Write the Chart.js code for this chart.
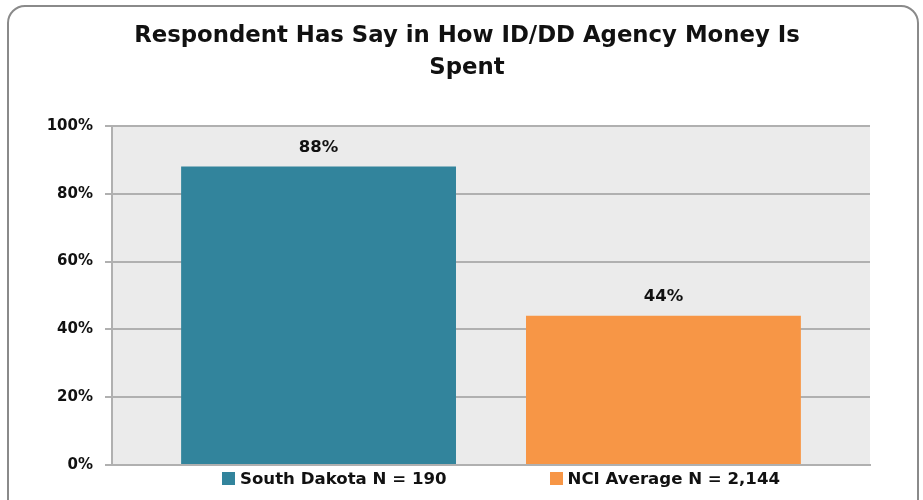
<!DOCTYPE html>
<html>
<head>
<meta charset="utf-8">
<script src="https://cdn.jsdelivr.net/npm/chart.js@4/dist/chart.umd.min.js"></script>
<style>
  html, body { margin: 0; padding: 0; background: #fff; }
  #wrap { position: relative; width: 923px; height: 500px; overflow: hidden; }
  #frame {
    position: absolute; left: 7px; top: 5px; width: 912px; height: 530px;
    border: 2px solid #8a8a8a; border-radius: 18px; box-sizing: border-box;
  }
  #chart { position: absolute; left: 0; top: 0; }
  #legend {
    position: absolute; top: 469px; left: 222px;
    display: flex; gap: 103px;
    font: bold 16.6px "DejaVu Sans", Verdana, sans-serif; color: #111;
  }
  #legend .item { display: flex; align-items: center; white-space: nowrap; }
  #legend .box { width: 13px; height: 13px; margin-right: 5px; }
</style>
</head>
<body>
<div id="wrap">
  <div id="frame"></div>
  <canvas id="chart" width="923" height="500"></canvas>
  <div id="legend"></div>
</div>
<script>
// Series shown as bars
const seriesNames = ['South Dakota N = 190', 'NCI Average N = 2,144'];
const seriesValues = [88, 44];
const seriesColors = ['#32849c', '#f79646'];
const yTicks = [0, 20, 40, 60, 80, 100];

const datasets = seriesNames.map((name, i) => ({
    label: name,
    data: [seriesValues[i]],
    backgroundColor: seriesColors[i],
    barPercentage: 0.797,
    categoryPercentage: 0.91
}));

// Gray plot background behind the bars
const plotBackground = {
    id: 'plotBackground',
    beforeDraw(chart) {
        const { ctx, chartArea } = chart;
        ctx.save();
        ctx.fillStyle = '#ebebeb';
        ctx.fillRect(chartArea.left, chartArea.top, chartArea.right - chartArea.left, chartArea.bottom - chartArea.top);
        ctx.restore();
    }
};

// Percent labels above each bar
const valueLabels = {
    id: 'valueLabels',
    afterDatasetsDraw(chart) {
        const ctx = chart.ctx;
        ctx.save();
        ctx.font = 'bold 16.5px "DejaVu Sans", Verdana, sans-serif';
        ctx.fillStyle = '#111';
        ctx.textAlign = 'center';
        ctx.textBaseline = 'middle';
        chart.data.datasets.forEach((ds, i) => {
            chart.getDatasetMeta(i).data.forEach((bar, j) => {
                ctx.fillText(ds.data[j] + '%', bar.x, bar.y - 19);
            });
        });
        ctx.restore();
    }
};

const chart = new Chart(document.getElementById('chart'), {
    type: 'bar',
    data: { labels: [''], datasets: datasets },
    options: {
        responsive: false,
        animation: false,
        layout: { padding: { top: 4, left: 11, right: 0, bottom: 27 } },
        plugins: {
            legend: { display: false },
            tooltip: { enabled: false },
            title: {
                display: true,
                text: ['Respondent Has Say in How ID/DD Agency Money Is', 'Spent'],
                font: { family: 'DejaVu Sans', weight: 'bold', size: 22.8, lineHeight: 1.4 },
                color: '#111',
                padding: { top: 16, bottom: 42 }
            }
        },
        scales: {
            x: {
                ticks: { display: false },
                grid: { display: false },
                border: { display: true, color: '#b0b0b0', width: 2 }
            },
            y: {
                min: 0,
                max: 100,
                afterBuildTicks(scale) {
                    scale.ticks = yTicks.map(v => ({ value: v }));
                },
                afterFit(scale) { scale.width = 101; },
                ticks: {
                    callback: v => v + '%',
                    font: { family: 'DejaVu Sans', weight: 'bold', size: 15 },
                    color: '#111',
                    padding: 12
                },
                grid: { color: '#b0b0b0', lineWidth: 2, tickLength: 7 },
                border: { display: true, color: '#b0b0b0', width: 2 }
            },
            // empty right-hand gutter so the plot stops short of the frame
            gutter: {
                position: 'right',
                ticks: { display: false },
                grid: { display: false },
                border: { display: false },
                afterFit(scale) { scale.width = 53; }
            }
        }
    },
    plugins: [plotBackground, valueLabels]
});

// Legend row under the plot
const legend = document.getElementById('legend');
seriesNames.forEach((name, i) => {
    const item = document.createElement('div');
    item.className = 'item';
    const box = document.createElement('span');
    box.className = 'box';
    box.style.background = seriesColors[i];
    const text = document.createElement('span');
    text.textContent = name;
    item.appendChild(box);
    item.appendChild(text);
    legend.appendChild(item);
});
</script>
</body>
</html>
